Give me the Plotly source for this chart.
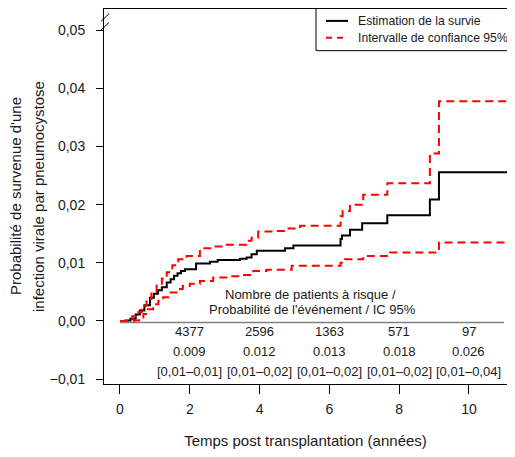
import plotly.graph_objects as go

# courbe de survie (estimation) - temps en années
t_est = [0, 0.15, 0.3, 0.45, 0.57, 0.7, 0.86, 0.97, 1.09, 1.2, 1.34, 1.45, 1.55, 1.65, 1.75, 1.86,
         2.18, 2.58, 2.8, 3.44, 3.63, 3.77, 3.92, 4.73, 4.97, 6.32, 6.36, 6.59, 6.94, 7.66, 8.88, 9.14, 11.17]
y_est = [0, 0.0001, 0.0004, 0.0011, 0.0018, 0.0027, 0.0040, 0.0047, 0.0053, 0.0058, 0.0066, 0.0072, 0.0078,
         0.0082, 0.0086, 0.0089, 0.0099, 0.0102, 0.0105, 0.0107, 0.0109, 0.0115, 0.0121, 0.0125, 0.0130,
         0.0141, 0.0147, 0.0157, 0.0168, 0.0182, 0.0209, 0.0256, 0.0256]

# borne haute IC 95%
t_up = [0, 0.2, 0.35, 0.48, 0.62, 0.76, 0.9, 1.05, 1.2, 1.34, 1.5, 1.67, 1.91, 2.29, 2.67, 3.06, 3.63,
        3.77, 3.96, 4.39, 4.78, 5.16, 6.32, 6.38, 6.59, 6.97, 7.66, 8.88, 9.14, 11.17]
y_up = [0, 0.0003, 0.0008, 0.0015, 0.0026, 0.0038, 0.0050, 0.0061, 0.0073, 0.0084, 0.0096, 0.0106, 0.0112,
        0.0125, 0.0128, 0.0131, 0.0138, 0.0143, 0.0154, 0.0155, 0.0159, 0.0164, 0.0180, 0.0189, 0.0200,
        0.0217, 0.0237, 0.0288, 0.0378, 0.0378]

# borne basse IC 95%
t_low = [0, 0.4, 0.55, 0.67, 0.8, 0.95, 1.1, 1.24, 1.45, 1.62, 1.8, 2.0, 2.29, 2.67, 3.15, 3.44, 3.82,
         4.2, 4.92, 6.32, 6.45, 6.97, 7.74, 9.14, 11.17]
y_low = [0, 0.0001, 0.0006, 0.0012, 0.0020, 0.0029, 0.0035, 0.0041, 0.0049, 0.0055, 0.0060, 0.0064,
         0.0069, 0.0075, 0.0077, 0.0079, 0.0086, 0.0088, 0.0095, 0.0100, 0.0106, 0.0112, 0.0118, 0.0135, 0.0135]

# tableau des patients à risque
table_t = [2, 4, 6, 8, 10]
n_risk = ["4377", "2596", "1363", "571", "97"]
p_event = ["0.009", "0.012", "0.013", "0.018", "0.026"]
ic_95 = ["[0,01–0,01]", "[0,01–0,02]", "[0,01–0,02]", "[0,01–0,02]", "[0,01–0,04]"]

y_ticks = [-0.01, 0, 0.01, 0.02, 0.03, 0.04, 0.05]
y_ticktext = ["−0,01", "0,00", "0,01", "0,02", "0,03", "0,04", "0,05"]
x_ticks = [0, 2, 4, 6, 8, 10]
legend_labels = ["Estimation de la survie", "Intervalle de confiance 95%"]

FONT = "Liberation Sans, Arial, sans-serif"
TXT = "#1a1a1a"
DASH = "8px,5px"

# zone de tracé à l'écran : x 104 -> 507, y 8 -> 386 (la page ajoute 8 px de marge)
W, H = 403.0, 378.0
def py(sy):
    return (386 - sy) / H
def px(sx):
    return (sx - 104) / W

fig = go.Figure()
fig.add_trace(go.Scatter(x=t_est, y=y_est, mode="lines", line_shape="hv",
                         line=dict(color="black", width=2), name=legend_labels[0]))
fig.add_trace(go.Scatter(x=t_up, y=y_up, mode="lines", line_shape="hv",
                         line=dict(color="#ff0000", width=2, dash=DASH), name=legend_labels[1]))
fig.add_trace(go.Scatter(x=t_low, y=y_low, mode="lines", line_shape="hv",
                         line=dict(color="#ff0000", width=2, dash=DASH), name=legend_labels[1]))

# texte du tableau
for rows, sy in zip([n_risk, p_event, ic_95], [333, 353, 373]):
    for xx, txt in zip(table_t, rows):
        fig.add_annotation(x=xx, y=py(sy), xref="x", yref="paper", text=txt, showarrow=False,
                           xanchor="center", yanchor="middle",
                           font=dict(size=13, color=TXT, family=FONT))
fig.add_annotation(x=5.45, y=py(296), xref="x", yref="paper", text="Nombre de patients à risque /",
                   showarrow=False, xanchor="center", yanchor="middle",
                   font=dict(size=13, color=TXT, family=FONT))
fig.add_annotation(x=5.53, y=py(311), xref="x", yref="paper",
                   text="Probabilité de l'événement / IC 95%",
                   showarrow=False, xanchor="center", yanchor="middle",
                   font=dict(size=13, color=TXT, family=FONT))
fig.add_shape(type="line", xref="x", yref="paper", x0=0, x1=11.0, y0=py(324), y1=py(324),
              line=dict(color="#7f7f7f", width=1.5))

# titre de l'axe y sur deux lignes
for sx, txt in [(15.5, "Probabilité de survenue d'une"), (38.5, "infection virale par pneumocystose")]:
    fig.add_annotation(x=px(sx), y=0.5, xref="paper", yref="paper", text=txt, textangle=-90,
                       xanchor="center", yanchor="middle",
                       showarrow=False, font=dict(size=15, color=TXT, family=FONT))

# symbole de rupture d'axe
for y0, y1 in [(20.5, 12.7), (29.3, 21.5)]:
    fig.add_shape(type="line", xref="paper", yref="paper", x0=px(101), x1=px(109),
                  y0=py(y0), y1=py(y1), line=dict(color="black", width=1))

# légende encadrée (style R)
fig.add_shape(type="rect", xref="paper", yref="paper", x0=px(316), x1=px(530), y0=py(50), y1=py(7.5),
              fillcolor="white", line=dict(color="black", width=1), layer="above")
for sy, lab, col, dash in [(20, legend_labels[0], "black", "solid"), (37, legend_labels[1], "#ff0000", "6px,5px")]:
    fig.add_shape(type="line", xref="paper", yref="paper", x0=px(326), x1=px(348), y0=py(sy), y1=py(sy),
                  line=dict(color=col, width=2, dash=dash), layer="above")
    fig.add_annotation(x=px(356), y=py(sy), xref="paper", yref="paper", text=lab, showarrow=False,
                       xanchor="left", yanchor="middle", font=dict(size=12.2, color=TXT, family=FONT))

fig.update_xaxes(range=[-0.458, 11.09], tickvals=x_ticks, ticks="outside", ticklen=9,
                 tickcolor="black", showline=True, linecolor="black", mirror=True,
                 showgrid=False, zeroline=False, ticklabelstandoff=3,
                 tickfont=dict(size=14, color=TXT, family=FONT),
                 title=dict(text="Temps post transplantation (années)", standoff=22,
                            font=dict(size=15, color=TXT, family=FONT)))
fig.update_yaxes(range=[-0.01084, 0.05367], tickvals=y_ticks, ticktext=y_ticktext, ticks="outside",
                 ticklen=7, tickcolor="black", showline=True, linecolor="black",
                 showgrid=False, zeroline=False, ticklabelstandoff=8,
                 tickfont=dict(size=14, color=TXT, family=FONT))
fig.update_layout(width=499, height=441, margin=dict(l=96, r=0, t=0, b=63),
                  paper_bgcolor="white", plot_bgcolor="white", showlegend=False)
fig.write_html("out.html")
